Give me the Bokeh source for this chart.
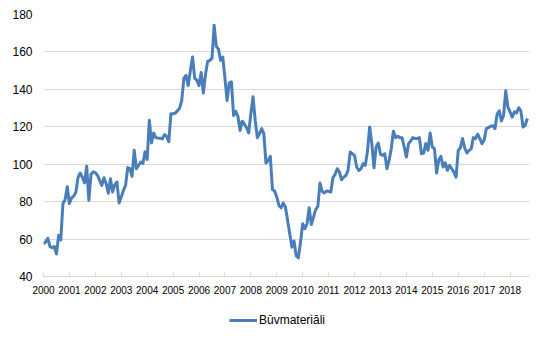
from bokeh.plotting import figure
from bokeh.layouts import column
from bokeh.models import Range1d, FixedTicker, Legend, LegendItem, ColumnDataSource
from bokeh.embed import file_html
from bokeh.resources import INLINE

# Monthly index values, Jan 2000 onward
values = [
    57.4, 58.5, 60.4, 56, 55.4, 56, 52, 62, 59.5, 79, 81, 88,
    79, 82, 83, 85, 93, 95.3, 93, 90, 98.9, 80.7, 94.6, 95.9,
    95.5, 94, 91.4, 88.7, 92.8, 89.6, 84.5, 92.3, 85.2, 89, 90.5, 79.3,
    82.5, 86, 88.7, 98.2, 97.6, 93.5, 107.5, 97.6, 99.4, 101.2, 100.3, 106.6,
    102.5, 123.5, 111.4, 116.7, 114.2, 114, 113.9, 113.5, 115.8, 114.9, 112, 127,
    127, 127.3, 128.5, 130, 134, 146, 147.5, 142, 150, 157.3, 146, 144.9,
    142, 149, 138, 148, 155, 155.5, 156.5, 174.3, 163, 161.5, 155.5, 157.3,
    146, 134, 143.5, 144, 126, 128.3, 125.6, 118, 123, 121.5, 119.5, 116.7,
    127, 136, 123.5, 114.2, 116.3, 119, 116.3, 100.6, 102, 104.2, 86.4, 85.7,
    82.4, 78, 76.7, 79.2, 77.1, 70, 62.8, 55.7, 58.9, 51, 50, 58.4,
    68.2, 65.5, 68.2, 76.7, 67.8, 71.7, 75.7, 77.4, 89.9, 85.5, 84.6, 85.7,
    85.5, 85.1, 92.8, 94.6, 97.6, 95.8, 91.7, 93.1, 94, 96.7, 106.5, 105.6,
    104.7, 98.5, 96.7, 97.6, 100.3, 99.4, 107, 119.9, 111, 98.1, 109.2, 111.3,
    105.3, 104.7, 105.6, 97.6, 102, 108.3, 117.6, 114.2, 114.9, 114.2, 114.2, 109.2,
    103.8, 111, 112.4, 114.2, 113.7, 113.7, 114.2, 105.6, 106, 111, 107.4, 116.7,
    109.2, 108.3, 95.3, 102.4, 104.2, 98.5, 100.8, 96.7, 99.4, 97.6, 95.8, 93.1,
    107.4, 108.8, 113.7, 108.8, 106, 107.4, 108.2, 114.2, 113.7, 116, 113.7, 111,
    112.8, 119, 119.5, 120.3, 120.5, 119, 126.7, 128.5, 123.1, 126.1, 139.2, 130.6,
    128, 125.2, 128, 127.4, 130.2, 128.5, 119.9, 120.8, 124.4,
]
months = list(range(len(values)))
year_labels = [str(y) for y in range(2000, 2019)]
year_ticks = [12 * i for i in range(len(year_labels))]
y_ticks = [40, 60, 80, 100, 120, 140, 160, 180]
series_name = "Būvmateriāli"
LINE_COLOR = "#4a7ebb"

src = ColumnDataSource(dict(m=months, v=values))

p = figure(frame_width=486, frame_height=262, output_backend="svg", toolbar_location=None,
           x_range=Range1d(0, 225), y_range=Range1d(40, 180),
           min_border_left=43, min_border_right=9, min_border_top=14, min_border_bottom=30)
p.outline_line_color = None
p.background_fill_color = "white"
p.border_fill_color = "white"

r = p.line("m", "v", source=src, line_color=LINE_COLOR, line_width=3, line_join="round")

# x axis
xa = p.xaxis[0]
xa.ticker = FixedTicker(ticks=year_ticks)
xa.major_label_overrides = {t: l for t, l in zip(year_ticks, year_labels)}
xa.axis_line_color = "#d9d9d9"
xa.major_tick_line_color = "#d9d9d9"
xa.major_tick_in = 4
xa.major_tick_out = 0
xa.minor_tick_line_color = None
xa.major_label_standoff = 9
xa.major_label_text_font = "Liberation Sans"
xa.major_label_text_font_size = "10px"
xa.major_label_text_color = "#000000"

# y axis
ya = p.yaxis[0]
ya.ticker = FixedTicker(ticks=y_ticks)
ya.axis_line_color = None
ya.major_tick_line_color = None
ya.minor_tick_line_color = None
ya.major_tick_in = 0
ya.major_tick_out = 0
ya.major_label_standoff = 11
ya.major_label_text_font = "Liberation Sans"
ya.major_label_text_font_size = "12px"
ya.major_label_text_color = "#000000"

p.xgrid.grid_line_color = None
p.ygrid.ticker = FixedTicker(ticks=y_ticks)
p.ygrid.grid_line_color = "#d9d9d9"
p.ygrid.grid_line_width = 1

# legend strip below the chart (proxy renderer lies outside the visible range)
p2 = figure(frame_width=486, frame_height=28, output_backend="svg", toolbar_location=None,
            x_range=Range1d(0, 1), y_range=Range1d(0, 1),
            x_axis_type=None, y_axis_type=None,
            min_border_left=43, min_border_right=9, min_border_top=0, min_border_bottom=0)
p2.outline_line_color = None
p2.grid.visible = False
r2 = p2.line(x=[-5, -4], y=[-5, -5], line_color=LINE_COLOR, line_width=3)
legend = Legend(items=[LegendItem(label=series_name, renderers=[r2])],
                location=(186, 7), orientation="horizontal",
                glyph_width=28, glyph_height=14, label_height=14, label_standoff=2,
                padding=0, margin=0, spacing=0,
                border_line_color=None, background_fill_alpha=0,
                label_text_font="Liberation Sans", label_text_font_size="12px",
                label_text_color="#000000")
p2.add_layout(legend, "center")

layout = column(p, p2, spacing=0)
open("out.html", "w").write(file_html(layout, INLINE))
